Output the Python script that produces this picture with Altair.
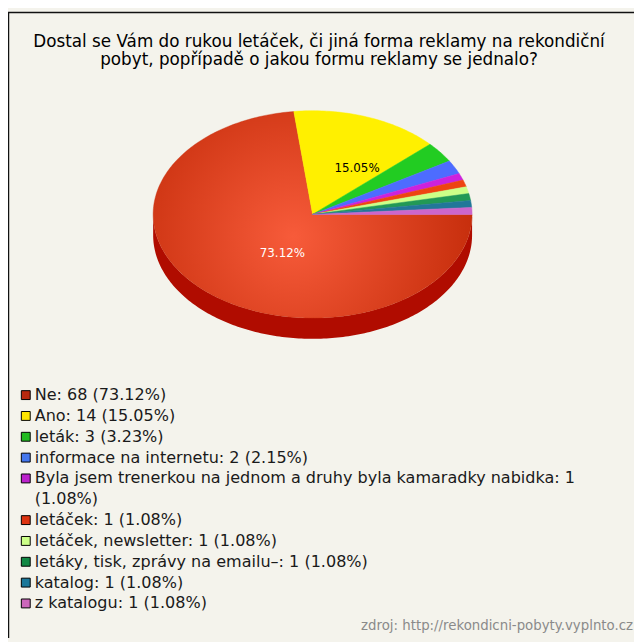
import math
import textwrap
import altair as alt
import pandas as pd

# ---------------- data ----------------
title_lines = [
    "Dostal se Vám do rukou letáček, či jiná forma reklamy na rekondiční",
    "pobyt, popřípadě o jakou formu reklamy se jednalo?",
]
categories = [
    "Ne",
    "Ano",
    "leták",
    "informace na internetu",
    "Byla jsem trenerkou na jednom a druhy byla kamaradky nabidka",
    "letáček",
    "letáček, newsletter",
    "letáky, tisk, zprávy na emailu–",
    "katalog",
    "z katalogu",
]
counts = [68, 14, 3, 2, 1, 1, 1, 1, 1, 1]
slice_colors = ["#d83414", "#fff000", "#22cc22", "#4d6cff", "#cc22dd",
                "#ee4411", "#ccff88", "#229955", "#227799", "#cc66cc"]
side_colors = ["#b00c00", "#c8b800", "#119911", "#3344cc", "#9911aa",
               "#bb3300", "#99cc66", "#116633", "#115566", "#994499"]
legend_colors = ["#b8280e", "#ffe600", "#22bb22", "#4477ee", "#bb22cc",
                 "#dd3311", "#ccff88", "#118844", "#1a7799", "#cc66bb"]
source_text = "zdroj: http://rekondicni-pobyty.vyplnto.cz"

FONT = "DejaVu Sans"
W, H = 634, 634
BG = "#f4f3ec"
DEPTH = 0.2

total = sum(counts)
pcts = [c / total * 100 for c in counts]

# ---------------- pie geometry (unit ellipse, built from counts) ----------------
top_rows, side_rows, lab_rows = [], [], []
cum = 0
for i, (cat, c) in enumerate(zip(categories, counts)):
    a0 = 2 * math.pi * cum / total
    cum += c
    a1 = 2 * math.pi * cum / total
    n = max(2, int(math.ceil((a1 - a0) / (2 * math.pi) * 360)))
    top_rows.append(dict(cat=cat, k=0, x=0.0, y=0.0))
    for j in range(n + 1):
        t = a0 + (a1 - a0) * j / n
        top_rows.append(dict(cat=cat, k=j + 1, x=math.cos(t), y=math.sin(t)))
    top_rows.append(dict(cat=cat, k=n + 2, x=0.0, y=0.0))
    # visible side wall (front half: angles 0..pi)
    s0, s1 = max(a0, 0.0), min(a1, math.pi)
    if s1 > s0:
        m = max(2, int(math.ceil((s1 - s0) / math.pi * 180)))
        for j in range(m + 1):
            t = s0 + (s1 - s0) * j / m
            side_rows.append(dict(cat=cat, x=math.cos(t), y=math.sin(t),
                                  y2=math.sin(t) + DEPTH))
    mid = (a0 + a1) / 2
    lab_rows.append(dict(cat=cat, pct=pcts[i], text=f"{pcts[i]:.2f}%",
                         x=0.5 * math.cos(mid), y=0.5 * math.sin(mid)))

top_df = pd.DataFrame(top_rows)
side_df = pd.DataFrame(side_rows)
lab_df = pd.DataFrame(lab_rows)

xs = alt.Scale(domain=[-1, 1], range=[147, 470])
ys = alt.Scale(domain=[-1, 1], range=[100, 310])
X = alt.X("x:Q", scale=xs, axis=None)
Y = alt.Y("y:Q", scale=ys, axis=None)

side = alt.Chart(side_df).mark_area(strokeWidth=0).encode(
    x=X, y=Y, y2="y2:Q",
    fill=alt.Fill("cat:N", scale=alt.Scale(domain=categories, range=side_colors), legend=None),
    detail="cat:N",
)

red_grad = {
    "gradient": "radial",
    "x1": 0.44, "y1": 0.57, "r1": 0.0,
    "x2": 0.44, "y2": 0.57, "r2": 0.62,
    "stops": [{"offset": 0, "color": "#f75b3a"}, {"offset": 1, "color": "#c22a08"}],
}

top_first = alt.Chart(top_df).transform_filter(
    alt.datum.cat == categories[0]
).mark_line(fill=red_grad, stroke="#c83010", strokeWidth=0.4).encode(
    x=X, y=Y, order="k:Q"
)

top_rest = alt.Chart(top_df).transform_filter(
    alt.datum.cat != categories[0]
).mark_line(strokeWidth=0.5).encode(
    x=X, y=Y, order="k:Q",
    fill=alt.Fill("cat:N", scale=alt.Scale(domain=categories, range=slice_colors), legend=None),
    stroke=alt.Stroke("cat:N", scale=alt.Scale(domain=categories, range=slice_colors), legend=None),
)

lab_white = alt.Chart(lab_df).transform_filter(
    alt.datum.cat == categories[0]
).mark_text(font=FONT, fontSize=12, color="#ffffff", dx=23, baseline="middle").encode(
    x=X, y=Y, text="text:N"
)
lab_black = alt.Chart(lab_df).transform_filter(
    (alt.datum.cat != categories[0]) & (alt.datum.pct >= 5)
).mark_text(font=FONT, fontSize=12, color="#000000", dx=17, dy=2, baseline="middle").encode(
    x=X, y=Y, text="text:N"
)

# ---------------- legend ----------------
leg_lines, leg_boxes = [], []
line = 0
for cat, c, p, col in zip(categories, counts, pcts, legend_colors):
    label = f"{cat}: {c} ({p:.2f}%)"
    leg_boxes.append(dict(cat=cat, line=line))
    for part in textwrap.wrap(label, 64):
        leg_lines.append(dict(text=part, line=line))
        line += 1
n_lines = line
leg_lines_df = pd.DataFrame(leg_lines)
leg_boxes_df = pd.DataFrame(leg_boxes)

ly = alt.Scale(domain=[0, n_lines - 1], range=[388, 599])

leg_box = alt.Chart(leg_boxes_df).mark_square(
    size=81, opacity=1, stroke="#000000", strokeWidth=1
).encode(
    x=alt.value(18),
    y=alt.Y("line:Q", scale=ly, axis=None),
    fill=alt.Fill("cat:N", scale=alt.Scale(domain=categories, range=legend_colors), legend=None),
)
leg_txt = alt.Chart(leg_lines_df).mark_text(
    font=FONT, fontSize=16.25, color="#1a1a1a", align="left", baseline="middle"
).encode(
    x=alt.value(27),
    y=alt.Y("line:Q", scale=ly, axis=None),
    text="text:N",
)

# ---------------- title & source ----------------
title_df = pd.DataFrame({"text": title_lines, "line": list(range(len(title_lines)))})
title = alt.Chart(title_df).mark_text(
    font=FONT, fontSize=17, color="#000000", align="center", baseline="middle"
).encode(
    x=alt.value(315),
    y=alt.Y("line:Q", scale=alt.Scale(domain=[0, 1], range=[30, 49]), axis=None),
    text="text:N",
)

src_df = pd.DataFrame({"text": [source_text]})
source = alt.Chart(src_df).mark_text(
    font=FONT, fontSize=13.5, color="#8a8a8a", align="right", baseline="middle"
).encode(x=alt.value(633), y=alt.value(622), text="text:N")

one = pd.DataFrame({"a": [0]})
frame_left = alt.Chart(one).mark_rule(color="#111111", strokeWidth=1.5).encode(
    x=alt.value(0.5), y=alt.value(0), y2=alt.value(H)
)
frame_top = alt.Chart(one).mark_rule(color="#111111", strokeWidth=1.5).encode(
    x=alt.value(0), x2=alt.value(W), y=alt.value(0.5)
)

chart = alt.layer(
    side, top_first, top_rest, lab_white, lab_black,
    leg_box, leg_txt, title, source, frame_left, frame_top,
).resolve_scale(
    y="independent", fill="independent"
).properties(
    width=W, height=H, background=BG, padding=0, autosize="none"
).configure_view(stroke=None, fill=BG)

chart.save("out.html", embed_options={"renderer": "svg", "actions": False})
